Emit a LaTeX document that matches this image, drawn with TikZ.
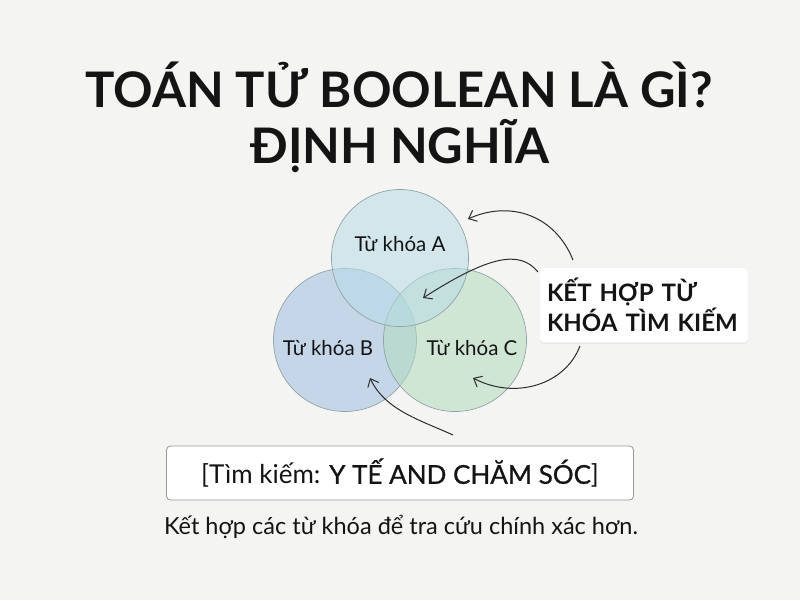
\documentclass[tikz,border=0pt]{standalone}
\usepackage{fontspec}
\setmainfont{Lato}
\usetikzlibrary{arrows.meta,shadows}
\definecolor{bgc}{HTML}{F4F4F3}
\definecolor{cA}{HTML}{B9DCE8}
\definecolor{cB}{HTML}{9EBEE0}
\definecolor{cC}{HTML}{B3DCBD}
\definecolor{edge}{HTML}{8FA3A8}
\definecolor{ink}{HTML}{141414}
\tikzset{
  venn/.style={circle, draw=edge, line width=0.7pt, fill opacity=0.55, inner sep=0pt},
  vlabel/.style={font=\fontsize{20.5}{24}\selectfont, text=ink},
  arr/.style={-{Straight Barb[length=7pt,width=12pt,line width=1pt]}, line width=1pt, draw=ink!90},
}
\begin{document}
\begin{tikzpicture}[x=1pt,y=-1pt]
\useasboundingbox (0,0) rectangle (800,600);
\fill[bgc] (0,0) rectangle (800,600);
% title
\node[font=\fontsize{49}{56}\selectfont\bfseries, text=ink, anchor=base] (t1) at (399,107) {TOÁN TỬ BOOLEAN LÀ GÌ?};
\node[font=\fontsize{49}{56}\selectfont\bfseries, text=ink, anchor=base] (t2) at (400,163) {ĐỊNH NGHĨA};
% circles
\node[venn, fill=cB, minimum size=143pt] (B) at (345,340) {};
\node[venn, fill=cC, minimum size=143pt] (C) at (455,340) {};
\node[venn, fill=cA, minimum size=137pt] (A) at (400,258) {};
\node[vlabel] (la) at (400,244) {Từ khóa A};
\node[vlabel] (lb) at (328,348) {Từ khóa B};
\node[vlabel] (lc) at (472,348) {Từ khóa C};
% key box
\node[draw=white!90!gray, fill=white, rounded corners=4pt, drop shadow={opacity=0.12, shadow xshift=0pt, shadow yshift=-1.5pt},
  minimum width=208pt, minimum height=75pt, align=left, text width=194pt,
  font=\fontsize{24}{30}\selectfont\bfseries, text=ink] (K) at (644,305) {KẾT HỢP TỪ\\KHÓA TÌM KIẾM};
% search box
\node[draw=gray!80, line width=0.8pt, fill=white, rounded corners=4pt, minimum width=467pt, minimum height=54pt,
  font=\fontsize{26}{30}\selectfont, text=ink] (S) at (400,473) {[Tìm kiếm: {\addfontfeature{FakeBold=0.8}Y TẾ AND CHĂM SÓC}]};
\node[font=\fontsize{23.5}{28}\selectfont, text=ink] (cap) at (401,527) {Kết hợp các từ khóa để tra cứu chính xác hơn.};
% arrow endpoints
\coordinate (k1) at (573,260);
\coordinate (k2) at (538,272);
\coordinate (k3) at (580,346);
\coordinate (s1) at (453,435);
\coordinate (ta) at (468,219);
\coordinate (tac) at (423,298);
\coordinate (tc) at (473,378);
\coordinate (tb) at (370,378);
\draw[arr] (k1) .. controls (555,215) and (510,200) .. (ta);
\draw[arr] (k2) .. controls (520,250) and (490,255) .. (tac);
\draw[arr] (k3) .. controls (565,385) and (515,400) .. (tc);
\draw[arr] (s1) .. controls (420,420) and (385,410) .. (tb);
\end{tikzpicture}
\end{document}
